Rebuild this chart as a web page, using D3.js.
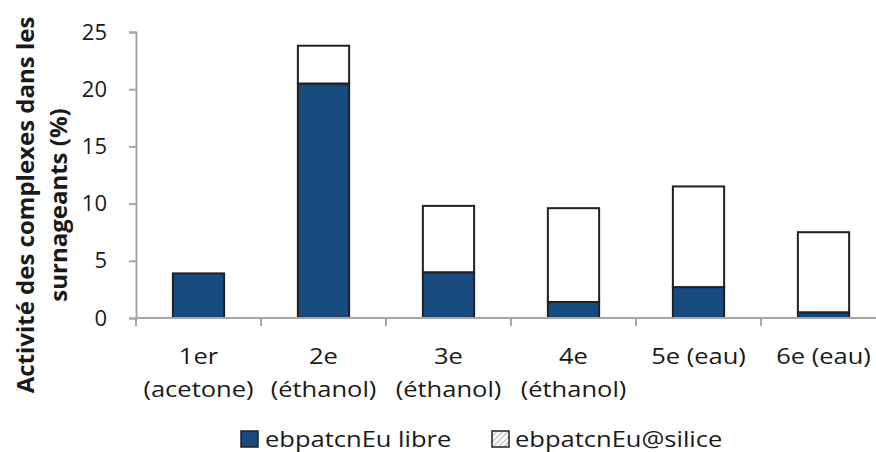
<!DOCTYPE html>
<html><head><meta charset="utf-8">
<script src="https://cdn.jsdelivr.net/npm/d3@7"></script>
<style>body{margin:0;background:#fff}svg{display:block}text{font-family:"Open Sans",sans-serif;fill:#1a1a1a}</style>
</head><body><svg id="c" width="876" height="452"></svg>
<script>
const categories = [["1er","(acetone)"],["2e","(éthanol)"],["3e","(éthanol)"],["4e","(éthanol)"],["5e (eau)"],["6e (eau)"]];
const libre = [3.9, 20.5, 4.0, 1.4, 2.7, 0.5];
const silice = [0.0, 3.3, 5.8, 8.2, 8.8, 7.0];
const seriesNames = ["ebpatcnEu libre", "ebpatcnEu@silice"];
const yTicks = [0, 5, 10, 15, 20, 25];

const svg = d3.select("#c");
const x0 = 136, y0 = 318, yTop = 32;
const sx = 1.16;
const x = d3.scaleBand().domain(d3.range(categories.length)).range([x0, x0 + 125 * categories.length]).paddingInner(0.59).paddingOuter(0.295);
const y = d3.scaleLinear().domain([0, 25]).range([y0, yTop]);

const defs = svg.append("defs");
const pat = defs.append("pattern").attr("id","hatch").attr("patternUnits","userSpaceOnUse").attr("width",4).attr("height",4).attr("patternTransform","rotate(45)");
pat.append("rect").attr("width",4).attr("height",4).attr("fill","#fff");
pat.append("line").attr("x1",0).attr("y1",0).attr("x2",0).attr("y2",4).attr("stroke","#9a9a9a").attr("stroke-width",1.5);

// y axis
const yAxis = svg.append("g").attr("transform", `translate(${x0},0)`)
  .call(d3.axisLeft(y).tickValues(yTicks).tickSize(7).tickPadding(22));
yAxis.select(".domain").attr("stroke","#a6a6a6").attr("stroke-width",2);
yAxis.selectAll(".tick line").attr("stroke","#a6a6a6").attr("stroke-width",2);
yAxis.selectAll(".tick text").style("font-size","22px").attr("fill","#1a1a1a");

// bars
const g = svg.append("g");
categories.forEach((c, i) => {
  const bx = x(i), bw = x.bandwidth();
  g.append("rect").attr("x", bx).attr("y", y(libre[i])).attr("width", bw).attr("height", y(0) - y(libre[i]))
    .attr("fill", "#174a7e").attr("stroke", "#231f20").attr("stroke-width", 2);
  if (silice[i] > 0) {
    g.append("rect").attr("x", bx).attr("y", y(libre[i] + silice[i])).attr("width", bw).attr("height", y(libre[i]) - y(libre[i] + silice[i]))
      .attr("fill", "#fff").attr("stroke", "#231f20").attr("stroke-width", 2);
  }
});

// x axis
const xAxisLine = svg.append("g");
xAxisLine.append("line").attr("x1", x0).attr("x2", 876).attr("y1", y0).attr("y2", y0).attr("stroke","#a6a6a6").attr("stroke-width",2);
const boundaries = d3.range(categories.length + 1).map(i => x0 + 125 * i);
xAxisLine.selectAll("line.t").data(boundaries).join("line").attr("class","t")
  .attr("x1", d => d).attr("x2", d => d).attr("y1", y0).attr("y2", y0 + 8).attr("stroke","#a6a6a6").attr("stroke-width",2);

// x labels
categories.forEach((c, i) => {
  const cx = x(i) + x.bandwidth() / 2;
  const t = svg.append("text").attr("text-anchor","middle").style("font-size","22px")
    .attr("transform", `translate(${cx},0) scale(${sx},1)`);
  c.forEach((line, j) => t.append("tspan").attr("x", 0).attr("y", 364 + j * 33).text(line));
});

// y title
const yt = svg.append("text").attr("transform","translate(34,205) rotate(-90)").attr("text-anchor","middle")
  .style("font-size","24px").style("font-weight","bold");
yt.append("tspan").attr("x",0).attr("y",0).text("Activité des complexes dans les");
yt.append("tspan").attr("x",0).attr("y",33).text("surnageants (%)");

// legend
const leg = [{x:241, tx:265, fill:"#174a7e"}, {x:492, tx:515, fill:"url(#hatch)"}];
leg.forEach((l, i) => {
  svg.append("rect").attr("x", l.x).attr("y", 431).attr("width", 17).attr("height", 16)
    .attr("fill", l.fill).attr("stroke", "#231f20").attr("stroke-width", 1.5);
  svg.append("text").attr("transform", `translate(${l.tx},447) scale(${sx},1)`).style("font-size","22px").text(seriesNames[i]);
});
</script></body></html>
